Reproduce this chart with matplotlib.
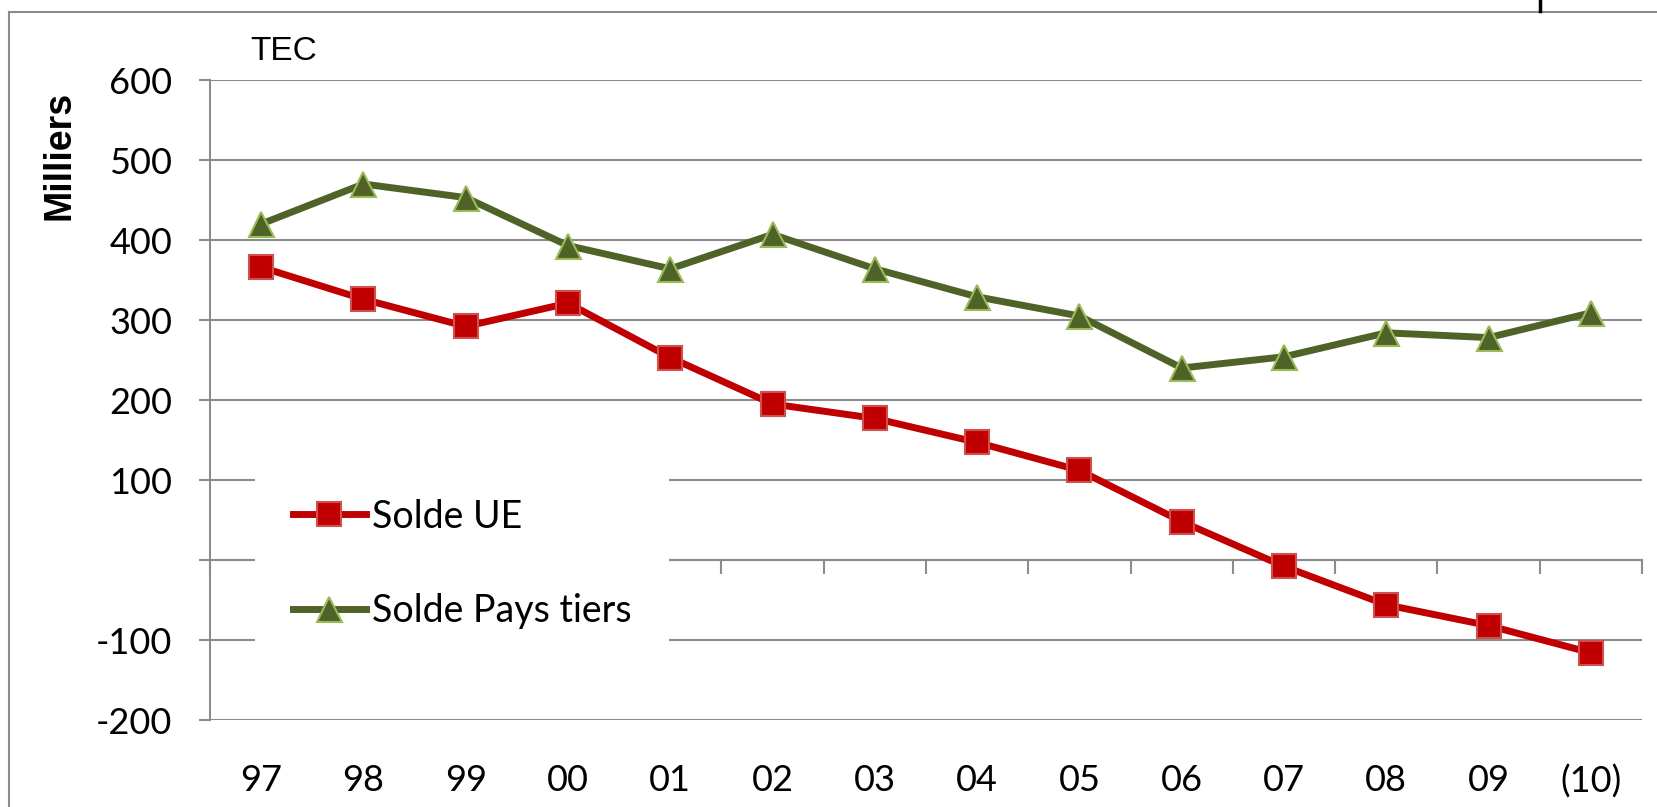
import numpy as np
import matplotlib.pyplot as plt
from matplotlib.lines import Line2D

# data (thousands)
years = ['97', '98', '99', '00', '01', '02', '03', '04', '05', '06', '07', '08', '09', '(10)']
solde_ue = [366, 326, 292, 321, 253, 195, 177, 147, 112, 48, -8, -56, -82, -116]
solde_tiers = [420, 470, 453, 393, 364, 407, 364, 329, 305, 240, 254, 284, 278, 309]
yticks = [-200, -100, 0, 100, 200, 300, 400, 500, 600]
ytick_labels = ['-200', '-100', '', '100', '200', '300', '400', '500', '600']

W, H = 1657, 807
fig = plt.figure(figsize=(W / 100, H / 100), dpi=100)
ax = fig.add_axes([210 / W, 1 - 720 / H, (1642 - 210) / W, 640 / H])

grid_col = '#8c8c8c'
x = np.arange(len(years))

ax.plot(x, solde_ue, color='#c00000', lw=5, marker='s', ms=17,
        markerfacecolor='#c00000', markeredgecolor='#d0504d', markeredgewidth=1.5,
        label='Solde UE', zorder=3)
ax.plot(x, solde_tiers, color='#4f6228', lw=5, marker='^', ms=18,
        markerfacecolor='#4f6228', markeredgecolor='#9bbb59', markeredgewidth=1.5,
        label='Solde Pays tiers', zorder=3)

ax.set_xlim(-0.5, len(years) - 0.5)
ax.set_ylim(-200, 600)
ax.set_yticks(yticks)
ax.set_yticklabels(ytick_labels, fontfamily='Lato', fontsize=26)
ax.yaxis.grid(True, color=grid_col, lw=1.5)
ax.set_axisbelow(True)
ax.tick_params(axis='y', length=8, width=1.5, color=grid_col, pad=19)

ax.set_xticks(x)
ax.set_xticklabels(years, fontfamily='Lato', fontsize=26)
ax.tick_params(axis='x', length=0, pad=32)

for s in ['top', 'right', 'bottom']:
    ax.spines[s].set_visible(False)
ax.spines['left'].set_color(grid_col)
ax.spines['left'].set_linewidth(1.5)

# category axis crossing at 0
sec = ax.secondary_xaxis(0.25)
sec.set_xticks(np.arange(len(years) + 1) - 0.5)
sec.set_xticklabels([])
sec.tick_params(length=10, width=1.5, color=grid_col, direction='out')
sec.spines['bottom'].set_color(grid_col)
sec.spines['bottom'].set_linewidth(1.5)

leg = ax.legend(loc='upper left', bbox_to_anchor=(255 / W, 1 - 461 / H),
                bbox_transform=fig.transFigure, prop={'family': 'Lato', 'size': 27},
                frameon=True, fancybox=False, framealpha=1, facecolor='white',
                edgecolor='none', numpoints=1, handlelength=1.97, handletextpad=0.15,
                labelspacing=1.55, borderpad=1.0, borderaxespad=0)
leg.set_zorder(5)

fig.text(250 / W, 1 - 52 / H, 'TEC', fontfamily='Liberation Sans', fontsize=24,
         ha='left', va='center')
fig.text(60 / W, 1 - 155 / H, 'Milliers', fontfamily='Liberation Sans', fontsize=27,
         fontweight='bold', rotation=90, ha='center', va='center')

# outer frame pieces
fig.add_artist(Line2D([9 / W, 9 / W], [0, 1 - 12 / H], color=grid_col, lw=1.5,
                      transform=fig.transFigure))
fig.add_artist(Line2D([9 / W, 1], [1 - 12 / H, 1 - 12 / H], color=grid_col, lw=1.5,
                      transform=fig.transFigure))
fig.add_artist(Line2D([1540 / W, 1540 / W], [1 - 11 / H, 1], color='black', lw=2.5,
                      transform=fig.transFigure))

fig.savefig('out.png', dpi=100, facecolor='white')
